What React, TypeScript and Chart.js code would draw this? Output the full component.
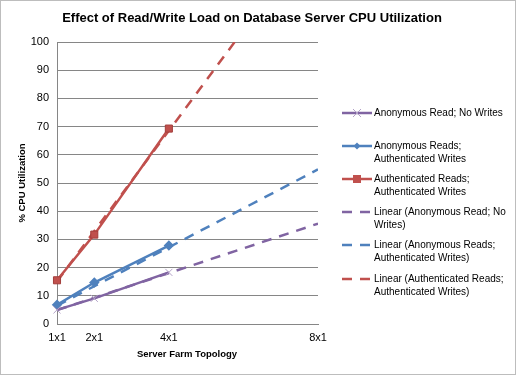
import React, { useEffect, useRef } from "react";
import { Chart, registerables } from "chart.js";

Chart.register(...registerables);

const xValues = [1, 2, 4];
const anonNoWrites = [5.0, 9.1, 18.3];
const anonAuthWrites = [6.8, 14.7, 27.8];
const authAuthWrites = [15.5, 31.7, 69.3];

// Linear trend lines (start at 1x1, forecast to 8x1)
const trendX = [1, 8];
const trendAnonNoWrites = [4.9, 35.6];
const trendAnonAuthWrites = [6.5, 54.8];
const trendAuthAuthWrites = [15.1, 139.8];

const xTickValues = [1, 2, 4, 8];
const xTickLabels = ["1x1", "2x1", "4x1", "8x1"];

const titleText = "Effect of Read/Write Load on Database Server CPU Utilization";
const yTitle = "% CPU Utilization";
const xTitle = "Server Farm Topology";

const PURPLE = "#8064A2";
const BLUE = "#4F81BD";
const RED = "#C0504D";

const legendItems = [
  { lines: ["Anonymous Read; No Writes"], color: PURPLE, dash: false, marker: "cross" },
  { lines: ["Anonymous Reads;", "Authenticated Writes"], color: BLUE, dash: false, marker: "diamond" },
  { lines: ["Authenticated Reads;", "Authenticated Writes"], color: RED, dash: false, marker: "square" },
  { lines: ["Linear (Anonymous Read; No", "Writes)"], color: PURPLE, dash: true, marker: "" },
  { lines: ["Linear (Anonymous Reads;", "Authenticated Writes)"], color: BLUE, dash: true, marker: "" },
  { lines: ["Linear (Authenticated Reads;", "Authenticated Writes)"], color: RED, dash: true, marker: "" },
];
const legendRowY = [113, 146, 179, 212, 245, 279];

const FONT = "'Liberation Sans', Arial, sans-serif";

const pts = (xs: number[], ys: number[]) => xs.map((x, i) => ({ x, y: ys[i] }));

const decorPlugin = {
  id: "decor",
  afterDraw(chart: any) {
    const ctx = chart.ctx as CanvasRenderingContext2D;
    ctx.save();
    // border
    ctx.strokeStyle = "#BDBDBD";
    ctx.lineWidth = 1;
    ctx.strokeRect(0.5, 0.5, 515, 374);
    // title
    ctx.fillStyle = "#000";
    ctx.textAlign = "center";
    ctx.textBaseline = "middle";
    ctx.font = `bold 13px ${FONT}`;
    ctx.fillText(titleText, 252, 18);
    // axis titles
    ctx.font = `bold 9.5px ${FONT}`;
    ctx.fillText(xTitle, 187, 354);
    ctx.save();
    ctx.translate(22, 183);
    ctx.rotate(-Math.PI / 2);
    ctx.fillText(yTitle, 0, 0);
    ctx.restore();
    // legend
    ctx.font = `10px ${FONT}`;
    ctx.textAlign = "left";
    legendItems.forEach((it, i) => {
      const y = legendRowY[i];
      ctx.strokeStyle = it.color;
      ctx.lineWidth = 2.5;
      ctx.setLineDash(it.dash ? [10, 8] : []);
      ctx.beginPath();
      ctx.moveTo(342, y);
      ctx.lineTo(372, y);
      ctx.stroke();
      ctx.setLineDash([]);
      if (it.marker === "square") {
        ctx.fillStyle = it.color;
        ctx.fillRect(353, y - 4, 8, 8);
      } else if (it.marker === "diamond") {
        ctx.fillStyle = it.color;
        ctx.beginPath();
        ctx.moveTo(357, y - 3.5);
        ctx.lineTo(360.5, y);
        ctx.lineTo(357, y + 3.5);
        ctx.lineTo(353.5, y);
        ctx.closePath();
        ctx.fill();
      } else if (it.marker === "cross") {
        ctx.strokeStyle = "#B3A2C7";
        ctx.lineWidth = 1;
        ctx.beginPath();
        ctx.moveTo(353, y - 4);
        ctx.lineTo(361, y + 4);
        ctx.moveTo(361, y - 4);
        ctx.lineTo(353, y + 4);
        ctx.stroke();
      }
      ctx.fillStyle = "#000";
      it.lines.forEach((t, j) => ctx.fillText(t, 374, y + j * 13.3));
    });
    ctx.restore();
  },
};

export default function App() {
  const ref = useRef<HTMLCanvasElement | null>(null);
  useEffect(() => {
    document.body.style.margin = "0";
    if (!ref.current) return;
    const chart = new Chart(ref.current, {
      type: "line",
      data: {
        datasets: [
          {
            data: pts(xValues, anonNoWrites),
            borderColor: PURPLE,
            borderWidth: 2.5,
            pointStyle: "crossRot",
            pointRadius: 5,
            pointBorderColor: "#B3A2C7",
            pointBorderWidth: 1,
            tension: 0,
            clip: false,
            order: 0,
          },
          {
            data: pts(xValues, anonAuthWrites),
            borderColor: BLUE,
            backgroundColor: BLUE,
            borderWidth: 2.5,
            pointStyle: "rectRot",
            pointRadius: 3.5,
            pointBackgroundColor: BLUE,
            pointBorderColor: BLUE,
            tension: 0,
            clip: false,
            order: 0,
          },
          {
            data: pts(xValues, authAuthWrites),
            borderColor: RED,
            backgroundColor: RED,
            borderWidth: 2.5,
            pointStyle: "rect",
            pointRadius: 5,
            pointBackgroundColor: RED,
            pointBorderColor: "#A33E3B",
            pointBorderWidth: 1,
            tension: 0,
            clip: false,
            order: 0,
          },
          {
            data: pts(trendX, trendAnonNoWrites),
            borderColor: PURPLE,
            borderWidth: 2.5,
            borderDash: [10, 8],
            pointRadius: 0,
            order: 5,
          },
          {
            data: pts(trendX, trendAnonAuthWrites),
            borderColor: BLUE,
            borderWidth: 2.5,
            borderDash: [10, 8],
            pointRadius: 0,
            order: 5,
          },
          {
            data: pts(trendX, trendAuthAuthWrites),
            borderColor: RED,
            borderWidth: 2.5,
            borderDash: [10, 8],
            pointRadius: 0,
            order: 5,
          },
        ],
      },
      options: {
        responsive: false,
        animation: false,
        events: [],
        layout: { padding: { left: 0, right: 198, top: 42, bottom: 0 } },
        plugins: { legend: { display: false }, tooltip: { enabled: false }, title: { display: false } },
        scales: {
          x: {
            type: "linear",
            min: 1,
            max: 8,
            afterBuildTicks: (scale: any) => {
              scale.ticks = xTickValues.map((v) => ({ value: v }));
            },
            afterFit: (scale: any) => {
              scale.height = 51;
            },
            ticks: {
              autoSkip: false,
              maxRotation: 0,
              padding: 7,
              color: "#000",
              font: { family: FONT, size: 11 },
              callback: (v: any) => xTickLabels[xTickValues.indexOf(Number(v))] ?? "",
            },
            grid: { display: false, drawTicks: false },
            border: { display: true, color: "#868686", width: 1 },
          },
          y: {
            min: 0,
            max: 100,
            afterFit: (scale: any) => {
              scale.width = 57;
            },
            ticks: {
              stepSize: 10,
              padding: 8,
              color: "#000",
              font: { family: FONT, size: 11 },
            },
            grid: { color: "#868686", drawTicks: false, lineWidth: 1 },
            border: { display: true, color: "#868686", width: 1 },
          },
        },
      },
      plugins: [decorPlugin],
    });
    return () => chart.destroy();
  }, []);
  return <canvas ref={ref} width={516} height={375} style={{ display: "block" }} />;
}
